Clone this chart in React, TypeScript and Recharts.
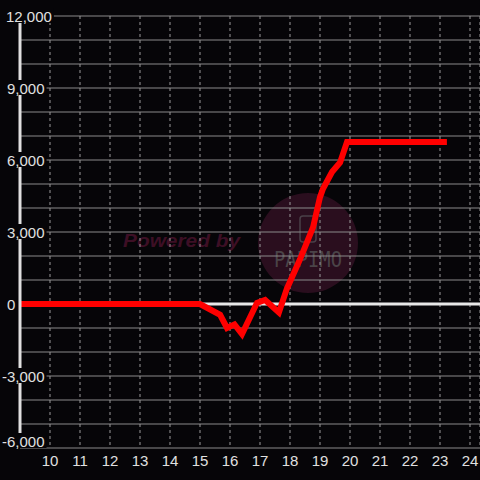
import { LineChart, Line, XAxis, YAxis, CartesianGrid, ReferenceLine } from "recharts";

const hours = [9, 15, 15.67, 15.9, 16.15, 16.4, 16.9, 17.17, 17.63, 17.9, 18.33, 18.77, 19.0, 19.1, 19.4, 19.67, 19.9, 23.23];
const values = [0, 0, -450, -1000, -850, -1250, 50, 170, -350, 650, 1850, 3200, 4450, 4800, 5500, 5900, 6750, 6750];

const xTicks = [10, 11, 12, 13, 14, 15, 16, 17, 18, 19, 20, 21, 22, 23, 24];
const yTicks = [-6000, -5000, -4000, -3000, -2000, -1000, 0, 1000, 2000, 3000, 4000, 5000, 6000, 7000, 8000, 9000, 10000, 11000, 12000];

const data = hours.map((h, i) => ({ hour: h, value: values[i] }));

const BG = "#060508";
const TEXT = "#e0e0e0";
const FONT = "'Liberation Sans', Arial, sans-serif";

function textWidth(s: string) {
  let w = 0;
  for (const c of s) w += c === "," ? 4.17 : c === "-" ? 5 : 8.34;
  return w;
}

function YTick(props: any) {
  const { y, payload } = props;
  const v = payload.value as number;
  if (v % 3000 !== 0) return null;
  const label = v.toLocaleString("en-US");
  const x0 = v < 0 ? 2 : v >= 10000 ? 6 : 7;
  const w = textWidth(label);
  // bottom label is pushed up so it stays inside the plot
  const cy = v === -6000 ? y - 7 : y;
  return (
    <g>
      <rect x={x0 - 1} y={cy - 8} width={w + 3} height={15} fill={BG} />
      <text x={x0} y={cy + 6} fill={TEXT} fontSize={15} fontFamily={FONT}>
        {label}
      </text>
    </g>
  );
}

function XTick(props: any) {
  const { x, payload } = props;
  return (
    <text x={x} y={465.5} fill={TEXT} fontSize={15} fontFamily={FONT} textAnchor="middle">
      {payload.value}
    </text>
  );
}

function Watermark() {
  return (
    <svg width={480} height={480} style={{ position: "absolute", left: 0, top: 0 }}>
      <circle cx={308} cy={243} r={50} fill="#2a0e1e" />
      <rect x={300} y={216} width={16} height={26} rx={3} fill="none" stroke="#4a4048" strokeWidth={1.5} />
      <text x={274} y={267} fontSize={22} fontFamily="'DejaVu Sans Mono', monospace" fill="#4a4448" textLength={68} lengthAdjust="spacingAndGlyphs">
        PAPIMO
      </text>
      <text x={123} y={247} fontSize={19} fontWeight="bold" fontStyle="italic" fontFamily={FONT} fill="#3d0f25" textLength={117} lengthAdjust="spacingAndGlyphs">
        Powered by
      </text>
    </svg>
  );
}

export default function App() {
  return (
    <div style={{ position: "absolute", left: 0, top: 0, width: 480, height: 480, background: BG }}>
      <Watermark />
      <div style={{ position: "absolute", left: 0, top: 0 }}>
        <LineChart width={480} height={480} data={data} margin={{ top: 16, right: 0, bottom: 0, left: 0 }}>
          <CartesianGrid vertical={false} stroke="#8a8a8a" />
          <CartesianGrid horizontal={false} stroke="#9a9a9a" strokeDasharray="3 3" />
          <XAxis
            dataKey="hour"
            type="number"
            domain={[9, 24.3333]}
            ticks={xTicks}
            allowDataOverflow
            axisLine={false}
            tickLine={false}
            height={32}
            tick={<XTick />}
            interval={0}
          />
          <YAxis
            type="number"
            domain={[-6000, 12000]}
            ticks={yTicks}
            interval={0}
            width={20}
            axisLine={{ stroke: "#e0e0e0", strokeWidth: 3 }}
            tickLine={false}
            tick={<YTick />}
          />
          <ReferenceLine y={0} stroke="#e8e8e8" strokeWidth={3} />
          <Line
            type="linear"
            dataKey="value"
            stroke="#ff0000"
            strokeWidth={6}
            dot={false}
            isAnimationActive={false}
          />
        </LineChart>
      </div>
    </div>
  );
}
